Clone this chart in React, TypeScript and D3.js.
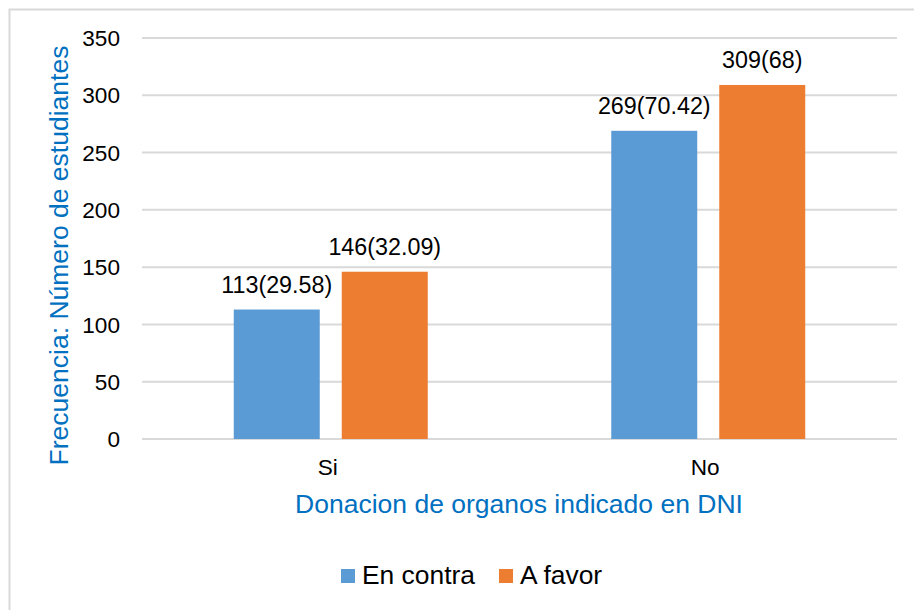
import React from "react";
import * as d3 from "d3";

const categories = ["Si", "No"];
const seriesNames = ["En contra", "A favor"];
const enContra = [113, 269];
const aFavor = [146, 309];
const enContraLabels = ["113(29.58)", "269(70.42)"];
const aFavorLabels = ["146(32.09)", "309(68)"];
const yTicks = [0, 50, 100, 150, 200, 250, 300, 350];
const colors = ["#5B9BD5", "#ED7D31"];

const W = 914;
const H = 610;
const font = "'Liberation Sans', Arial, sans-serif";

export default function App() {
  const left = 142, right = 897, top = 38, bottom = 439;
  const y = d3.scaleLinear().domain([0, 350]).range([bottom, top]);
  const x0 = d3.scaleBand().domain(categories).range([left, right]).paddingInner(0).paddingOuter(0);
  const groupW = 194;
  const x1 = d3.scaleBand().domain(seriesNames).range([0, groupW]).paddingInner(22 / 108);
  const series = [enContra, aFavor];
  const labels = [enContraLabels, aFavorLabels];

  return (
    <svg width={W} height={H} style={{ position: "absolute", left: 0, top: 0, display: "block" }}>
      <rect x={0} y={0} width={W} height={H} fill="#fff" />
      <rect x={9.5} y={9.5} width={W + 20} height={H + 20} fill="none" stroke="#D9D9D9" strokeWidth={2} />
      {yTicks.map((t) => (
        <g key={t}>
          <line x1={left} x2={right} y1={y(t)} y2={y(t)} stroke="#D9D9D9" strokeWidth={2} />
          <text x={120} y={y(t)} dy="0.36em" textAnchor="end" fontFamily={font} fontSize={22.6} fill="#000">
            {t}
          </text>
        </g>
      ))}
      {categories.map((c, ci) => {
        const cx = (x0(c) as number) + x0.bandwidth() / 2;
        const gx = cx - groupW / 2;
        return (
          <g key={c}>
            {series.map((s, si) => {
              const bx = gx + (x1(seriesNames[si]) as number);
              const bw = x1.bandwidth();
              return (
                <g key={si}>
                  <rect x={bx} y={y(s[ci])} width={bw} height={bottom - y(s[ci])} fill={colors[si]} />
                  <text x={bx + bw / 2} y={y(s[ci]) - 17} textAnchor="middle" fontFamily={font} fontSize={23.3} fill="#000">
                    {labels[si][ci]}
                  </text>
                </g>
              );
            })}
            <text x={cx - 3} y={475} textAnchor="middle" fontFamily={font} fontSize={22.6} fill="#000">
              {c}
            </text>
          </g>
        );
      })}
      <text x={519} y={513} textAnchor="middle" fontFamily={font} fontSize={26.5} fill="#0070C0">
        Donacion de organos indicado en DNI
      </text>
      <text
        transform={`translate(68,255.5) rotate(-90)`}
        textAnchor="middle"
        fontFamily={font}
        fontSize={26.5}
        fill="#0070C0"
      >
        Frecuencia: Número de estudiantes
      </text>
      <g>
        <rect x={341} y={569} width={14} height={14} fill={colors[0]} />
        <text x={362} y={584} fontFamily={font} fontSize={26.4} fill="#000">{seriesNames[0]}</text>
        <rect x={499} y={569} width={14} height={14} fill={colors[1]} />
        <text x={520} y={584} fontFamily={font} fontSize={26.4} fill="#000">{seriesNames[1]}</text>
      </g>
    </svg>
  );
}
